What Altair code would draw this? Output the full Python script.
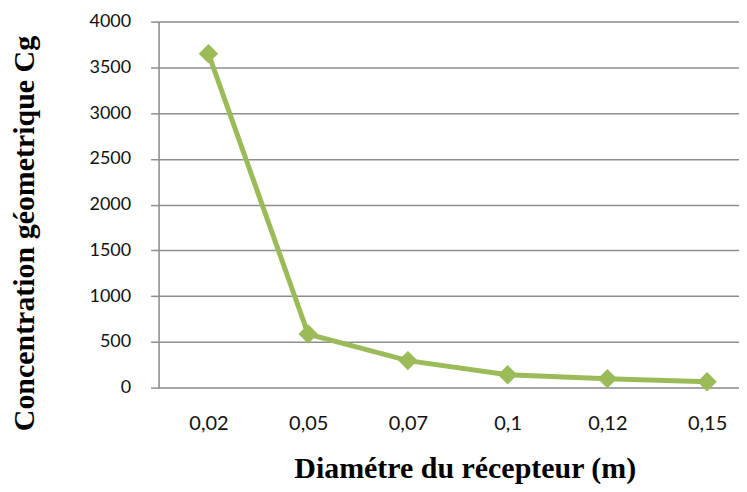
import altair as alt
import pandas as pd

diametres = ["0,02", "0,05", "0,07", "0,1", "0,12", "0,15"]
cg = [3650, 585, 295, 140, 98, 65]
y_ticks = [0, 500, 1000, 1500, 2000, 2500, 3000, 3500, 4000]

df = pd.DataFrame({"d": diametres, "cg": cg, "i": list(range(len(diametres)))})

green = "#9BBB59"
grid = "#8E8E8E"

label_expr = "[" + ",".join("'%s'" % d for d in diametres) + "][datum.value]"

x = alt.X("i:Q",
          scale=alt.Scale(domain=[-0.5, 5.32], nice=False, zero=False),
          axis=alt.Axis(title="Diamétre du récepteur (m)", values=list(range(len(diametres))),
                        labelExpr=label_expr, labelAngle=0,
                        domain=False, ticks=False, grid=False,
                        labelFont="Lato", labelFontSize=20, labelColor="#111",
                        labelPadding=26, labelFlush=False, labelOverlap=False,
                        titleFont="Liberation Serif", titleFontSize=30,
                        titleFontWeight="bold", titleColor="#000",
                        titlePadding=20, titleX=307))
y = alt.Y("cg:Q",
          scale=alt.Scale(domain=[0, 4000], nice=False),
          axis=alt.Axis(title="Concentration géometrique Cg", values=y_ticks, format="d",
                        domain=True, domainColor=grid, domainWidth=1.5,
                        ticks=True, tickSize=8, tickColor=grid, tickWidth=1.5,
                        grid=True, gridColor=grid, gridWidth=1.5,
                        labelFont="Lato", labelFontSize=18, labelColor="#111",
                        labelPadding=20,
                        titleFont="Liberation Serif", titleFontSize=30,
                        titleFontWeight="bold", titleColor="#000",
                        titlePadding=50, titleY=212))

line = alt.Chart(df).mark_line(color=green, strokeWidth=5).encode(x=x, y=y)
pts = alt.Chart(df).mark_point(shape="diamond", filled=True, color=green,
                               size=380, opacity=1).encode(x=x, y=y)

chart = (line + pts).properties(
    width=582, height=367,
    padding={"left": 1, "top": 4, "right": 0, "bottom": 0},
).configure_view(stroke=None).configure(background="white")

chart.save("out.html", embed_options={"renderer": "svg", "actions": False})
